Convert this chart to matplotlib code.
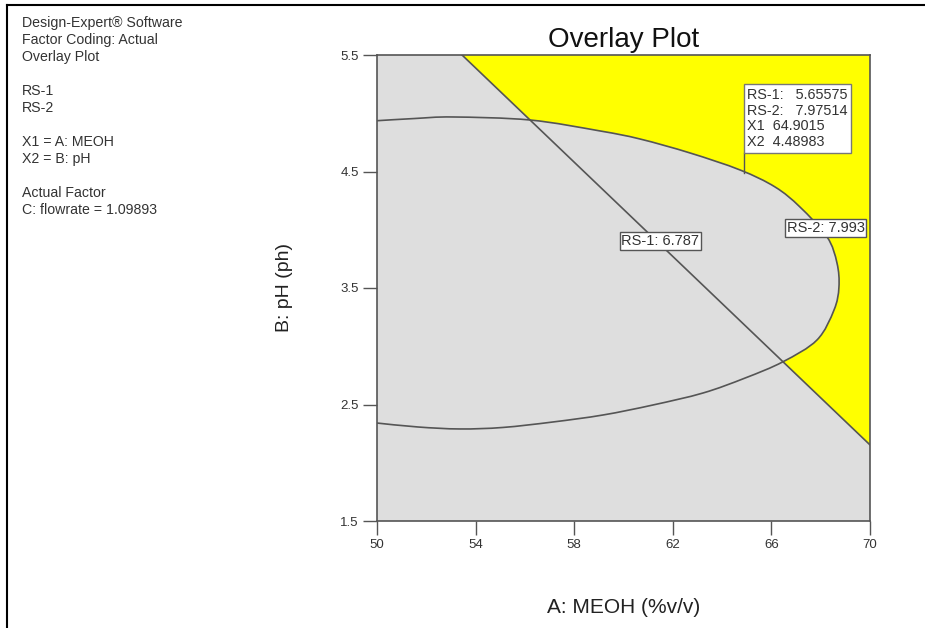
import matplotlib
matplotlib.use("Agg")
import matplotlib.pyplot as plt
from matplotlib.lines import Line2D
from matplotlib.path import Path
from matplotlib.patches import PathPatch

plt.rcParams['font.family'] = ['Liberation Sans', 'DejaVu Sans']

# ---- data ----
x_ticks = [50, 54, 58, 62, 66, 70]
y_ticks = [1.5, 2.5, 3.5, 4.5, 5.5]
y_tick_labels = ["1.5", "2.5", "3.5", "4.5", "5.5"]

# RS-2 = 7.993 contour (traced clockwise from the left edge top)
rs2_x = [50.0, 51.54, 53.08, 56.21, 59.05, 60.67, 62.70, 64.73, 66.15, 67.16,
         68.26, 68.66, 68.74, 68.54, 67.85, 66.47, 64.93, 63.23, 61.20, 59.17,
         57.14, 55.11, 53.37, 51.66, 50.0]
rs2_y = [4.936, 4.955, 4.968, 4.942, 4.848, 4.779, 4.659, 4.513, 4.367, 4.195,
         3.938, 3.715, 3.508, 3.311, 3.054, 2.867, 2.727, 2.599, 2.496, 2.410,
         2.350, 2.303, 2.290, 2.307, 2.341]

# RS-1 = 6.787 contour (straight line)
rs1_x = [53.45, 70.0]
rs1_y = [5.5, 2.153]

# indices of the RS-2 curve that bound the yellow region (top crossing -> bottom crossing)
arc_start, arc_end = 3, 15

flag_x, flag_y = 64.9015, 4.48983
flag_text = "RS-1:   5.65575\nRS-2:   7.97514\nX1  64.9015\nX2  4.48983"
rs1_label = ("RS-1: 6.787", 61.50, 3.903)
rs2_label = ("RS-2: 7.993", 68.20, 4.015)

side_text = ("Design-Expert\u00ae Software\nFactor Coding: Actual\nOverlay Plot\n\n"
             "RS-1\nRS-2\n\nX1 = A: MEOH\nX2 = B: pH\n\nActual Factor\nC: flowrate = 1.09893")


def smooth_segments(xs, ys, a, b):
    """Bezier (CURVE4) vertices through points a..b of the list, Catmull-Rom tangents."""
    n = len(xs)
    verts = []
    step = 1 if b >= a else -1
    for i in range(a, b, step):
        p0 = max(0, min(n - 1, i - step))
        p1, p2 = i, i + step
        p3 = max(0, min(n - 1, i + 2 * step))
        c1 = (xs[p1] + (xs[p2] - xs[p0]) / 6, ys[p1] + (ys[p2] - ys[p0]) / 6)
        c2 = (xs[p2] - (xs[p3] - xs[p1]) / 6, ys[p2] - (ys[p3] - ys[p1]) / 6)
        verts += [c1, c2, (xs[p2], ys[p2])]
    return verts


# ---- figure ----
fig = plt.figure(figsize=(9.25, 6.28), dpi=100)
ax = fig.add_axes([377/925, 1 - 521/628, 493/925, 466/628])
ax.set_xlim(50, 70)
ax.set_ylim(1.5, 5.5)
ax.set_facecolor('#dedede')

# yellow region: above the RS-1 line and outside the RS-2 curve
verts = [(rs1_x[0], rs1_y[0]), (70, 5.5), (rs1_x[1], rs1_y[1]),
         (rs2_x[arc_end], rs2_y[arc_end])]
codes = [Path.MOVETO, Path.LINETO, Path.LINETO, Path.LINETO]
arc = smooth_segments(rs2_x, rs2_y, arc_end, arc_start)
verts += arc
codes += [Path.CURVE4] * len(arc)
verts += [(rs1_x[0], rs1_y[0]), (rs1_x[0], rs1_y[0])]
codes += [Path.LINETO, Path.CLOSEPOLY]
ax.add_patch(PathPatch(Path(verts, codes), fc='#ffff00', ec='none', zorder=1))

# RS-2 contour line
cverts = [(rs2_x[0], rs2_y[0])] + smooth_segments(rs2_x, rs2_y, 0, len(rs2_x) - 1)
ccodes = [Path.MOVETO] + [Path.CURVE4] * (len(cverts) - 1)
ax.add_patch(PathPatch(Path(cverts, ccodes), fc='none', ec='#555555', lw=1.2, zorder=2))

# RS-1 contour line
ax.plot(rs1_x, rs1_y, color='#555555', lw=1.2, zorder=2)

bbox = dict(boxstyle='square,pad=0.12', fc='white', ec='#555555', lw=1.0)
for txt, lx, ly in [rs1_label, rs2_label]:
    ax.text(lx, ly, txt, ha='center', va='center', fontsize=10.5, color='#333333',
            bbox=bbox, zorder=4)

# flag
ax.plot([flag_x, flag_x], [flag_y, 4.66], color='#555555', lw=1.0, zorder=3)
ax.text(flag_x + 0.12, 4.955, flag_text, ha='left', va='center', fontsize=10.4,
        color='#333333', linespacing=1.15, zorder=4,
        bbox=dict(boxstyle='square,pad=0.25', fc='white', ec='#777777', lw=1.0))

for s in ax.spines.values():
    s.set_color('#555555')
    s.set_linewidth(1.2)

ax.set_xticks(x_ticks)
ax.set_yticks(y_ticks)
ax.set_yticklabels(y_tick_labels)
ax.tick_params(direction='out', length=10, width=1.0, color='#555555',
               labelsize=9.5, labelcolor='#333333', pad=3)
ax.set_title("Overlay Plot", fontsize=20, color='#111111', pad=6)
ax.set_xlabel("A: MEOH (%v/v)", fontsize=15, color='#222222', labelpad=34)
ax.set_ylabel("B: pH (ph)", fontsize=14, color='#222222', labelpad=34)

fig.text(22/925, 1 - 16/628, side_text, ha='left', va='top', fontsize=10.2,
         color='#333333', linespacing=1.27)

# figure border (top and left)
fig.add_artist(Line2D([7/925, 1.0], [1 - 5/628, 1 - 5/628], color='black', lw=1.5,
                      transform=fig.transFigure))
fig.add_artist(Line2D([7/925, 7/925], [0, 1 - 5/628], color='black', lw=1.5,
                      transform=fig.transFigure))

fig.savefig("out.png", dpi=100)
